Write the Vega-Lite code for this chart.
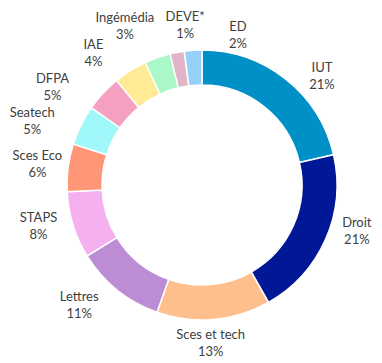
{
  "$schema": "https://vega.github.io/schema/vega-lite/v6.json",
  "autosize": "none",
  "width": 360,
  "height": 356,
  "padding": {"left": 22, "top": 7, "right": 0, "bottom": 0},
  "background": "white",
  "config": {
    "text": {"font": "Lato", "fontSize": 13, "color": "#404040", "lineBreak": "\n", "lineHeight": 17, "radius": 167}
  },
  "data": {
    "values": [
      {"name": "IUT", "pct": "21%", "value": 21.4},
      {"name": "Droit", "pct": "21%", "value": 20.4},
      {"name": "Sces et tech", "pct": "13%", "value": 13.6},
      {"name": "Lettres", "pct": "11%", "value": 10.8},
      {"name": "STAPS", "pct": "8%", "value": 8.0},
      {"name": "Sces Eco", "pct": "6%", "value": 5.7},
      {"name": "Seatech", "pct": "5%", "value": 4.8},
      {"name": "DFPA", "pct": "5%", "value": 4.4},
      {"name": "IAE", "pct": "4%", "value": 4.0},
      {"name": "Ingémédia", "pct": "3%", "value": 3.1},
      {"name": "DEVE*", "pct": "1%", "value": 1.7},
      {"name": "ED", "pct": "2%", "value": 2.1}
    ]
  },
  "transform": [
    {"window": [{"op": "row_number", "as": "idx"}]},
    {"stack": "value", "groupby": [], "sort": [{"field": "idx", "order": "ascending"}], "as": ["v0", "v1"]},
    {"calculate": "(datum.v0 + datum.v1) / 2", "as": "mid"},
    {"calculate": "datum.name + '\\n' + datum.pct", "as": "label"}
  ],
  "layer": [
    {
      "mark": {"type": "arc", "outerRadius": 135, "innerRadius": 100, "stroke": "white", "strokeWidth": 1.5},
      "encoding": {
        "theta": {"field": "v0", "type": "quantitative", "scale": {"domain": [0, 100]}},
        "theta2": {"field": "v1"},
        "color": {
          "field": "name",
          "type": "nominal",
          "legend": null,
          "scale": {
            "domain": ["IUT", "Droit", "Sces et tech", "Lettres", "STAPS", "Sces Eco", "Seatech", "DFPA", "IAE", "Ingémédia", "DEVE*", "ED"],
            "range": ["#0090C8", "#001896", "#FFBF8C", "#BC8CD4", "#F5B0F0", "#FF9678", "#A0F8FA", "#F5A0C0", "#FFEA96", "#AAF8C8", "#E2B4C8", "#96D0FA"]
          }
        }
      }
    },
    {
      "encoding": {
        "theta": {"field": "mid", "type": "quantitative", "scale": {"domain": [0, 100]}},
        "text": {"field": "label"}
      },
      "layer": [
        {"transform": [{"filter": "datum.name === 'IUT'"}], "mark": {"type": "text", "dx": 16, "dy": 14}},
        {"transform": [{"filter": "datum.name === 'Droit'"}], "mark": {"type": "text", "dx": 2, "dy": -29}},
        {"transform": [{"filter": "datum.name === 'Sces et tech'"}], "mark": {"type": "text", "dx": -6, "dy": -16}},
        {"transform": [{"filter": "datum.name === 'Lettres'"}], "mark": {"type": "text", "dx": -18, "dy": -18}},
        {"transform": [{"filter": "datum.name === 'STAPS'"}], "mark": {"type": "text", "dx": -4, "dy": -17}},
        {"transform": [{"filter": "datum.name === 'Sces Eco'"}], "mark": {"type": "text", "dx": 1, "dy": -8}},
        {"transform": [{"filter": "datum.name === 'Seatech'"}], "mark": {"type": "text", "dx": -20, "dy": 2}},
        {"transform": [{"filter": "datum.name === 'DFPA'"}], "mark": {"type": "text", "dx": -27, "dy": 8}},
        {"transform": [{"filter": "datum.name === 'IAE'"}], "mark": {"type": "text", "dx": -20, "dy": 2}},
        {"transform": [{"filter": "datum.name === 'Ingémédia'"}], "mark": {"type": "text", "dx": -22, "dy": -9}},
        {"transform": [{"filter": "datum.name === 'DEVE*'"}], "mark": {"type": "text", "dx": 14, "dy": -4}},
        {"transform": [{"filter": "datum.name === 'ED'"}], "mark": {"type": "text", "dx": 47, "dy": 9}}
      ]
    }
  ]
}
